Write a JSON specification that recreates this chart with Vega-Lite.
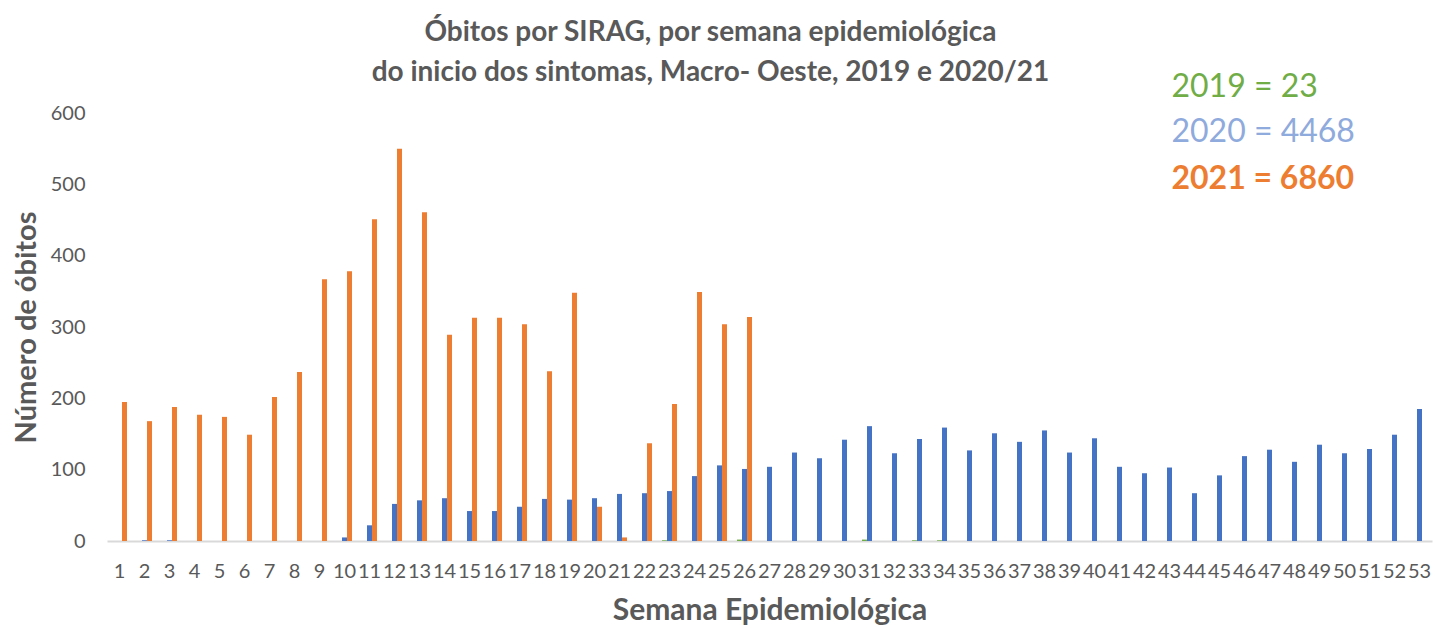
{
  "$schema": "https://vega.github.io/schema/vega-lite/v6.json",
  "width": 1325,
  "height": 428,
  "autosize": "none",
  "padding": {"left": 107, "top": 113, "right": 3, "bottom": 87},
  "background": "white",
  "config": {
    "font": "Lato",
    "view": {"stroke": null}
  },
  "title": {
    "text": ["Óbitos por SIRAG, por semana epidemiológica", "do inicio dos sintomas, Macro- Oeste, 2019 e 2020/21"],
    "font": "Lato",
    "fontSize": 28,
    "fontWeight": "bold",
    "color": "#595959",
    "anchor": "middle",
    "dx": -59,
    "lineHeight": 40,
    "offset": -16
  },
  "datasets": {
    "bars": [
      {"week": 1, "series": "2021", "deaths": 195},
      {"week": 2, "series": "2021", "deaths": 168},
      {"week": 3, "series": "2021", "deaths": 188},
      {"week": 4, "series": "2021", "deaths": 177},
      {"week": 5, "series": "2021", "deaths": 174},
      {"week": 6, "series": "2021", "deaths": 149},
      {"week": 7, "series": "2021", "deaths": 202},
      {"week": 8, "series": "2021", "deaths": 237},
      {"week": 9, "series": "2021", "deaths": 367},
      {"week": 10, "series": "2021", "deaths": 378},
      {"week": 11, "series": "2021", "deaths": 451},
      {"week": 12, "series": "2021", "deaths": 550},
      {"week": 13, "series": "2021", "deaths": 461},
      {"week": 14, "series": "2021", "deaths": 289},
      {"week": 15, "series": "2021", "deaths": 313},
      {"week": 16, "series": "2021", "deaths": 313},
      {"week": 17, "series": "2021", "deaths": 304},
      {"week": 18, "series": "2021", "deaths": 238},
      {"week": 19, "series": "2021", "deaths": 348},
      {"week": 20, "series": "2021", "deaths": 48},
      {"week": 21, "series": "2021", "deaths": 5},
      {"week": 22, "series": "2021", "deaths": 137},
      {"week": 23, "series": "2021", "deaths": 192},
      {"week": 24, "series": "2021", "deaths": 349},
      {"week": 25, "series": "2021", "deaths": 304},
      {"week": 26, "series": "2021", "deaths": 314},
      {"week": 2, "series": "2020", "deaths": 1},
      {"week": 3, "series": "2020", "deaths": 1},
      {"week": 10, "series": "2020", "deaths": 5},
      {"week": 11, "series": "2020", "deaths": 22},
      {"week": 12, "series": "2020", "deaths": 52},
      {"week": 13, "series": "2020", "deaths": 57},
      {"week": 14, "series": "2020", "deaths": 60},
      {"week": 15, "series": "2020", "deaths": 42},
      {"week": 16, "series": "2020", "deaths": 42},
      {"week": 17, "series": "2020", "deaths": 48},
      {"week": 18, "series": "2020", "deaths": 59},
      {"week": 19, "series": "2020", "deaths": 58},
      {"week": 20, "series": "2020", "deaths": 60},
      {"week": 21, "series": "2020", "deaths": 66},
      {"week": 22, "series": "2020", "deaths": 67},
      {"week": 23, "series": "2020", "deaths": 70},
      {"week": 24, "series": "2020", "deaths": 91},
      {"week": 25, "series": "2020", "deaths": 106},
      {"week": 26, "series": "2020", "deaths": 101},
      {"week": 27, "series": "2020", "deaths": 104},
      {"week": 28, "series": "2020", "deaths": 124},
      {"week": 29, "series": "2020", "deaths": 116},
      {"week": 30, "series": "2020", "deaths": 142},
      {"week": 31, "series": "2020", "deaths": 161},
      {"week": 32, "series": "2020", "deaths": 123},
      {"week": 33, "series": "2020", "deaths": 143},
      {"week": 34, "series": "2020", "deaths": 159},
      {"week": 35, "series": "2020", "deaths": 127},
      {"week": 36, "series": "2020", "deaths": 151},
      {"week": 37, "series": "2020", "deaths": 139},
      {"week": 38, "series": "2020", "deaths": 155},
      {"week": 39, "series": "2020", "deaths": 124},
      {"week": 40, "series": "2020", "deaths": 144},
      {"week": 41, "series": "2020", "deaths": 104},
      {"week": 42, "series": "2020", "deaths": 95},
      {"week": 43, "series": "2020", "deaths": 103},
      {"week": 44, "series": "2020", "deaths": 67},
      {"week": 45, "series": "2020", "deaths": 92},
      {"week": 46, "series": "2020", "deaths": 119},
      {"week": 47, "series": "2020", "deaths": 128},
      {"week": 48, "series": "2020", "deaths": 111},
      {"week": 49, "series": "2020", "deaths": 135},
      {"week": 50, "series": "2020", "deaths": 123},
      {"week": 51, "series": "2020", "deaths": 129},
      {"week": 52, "series": "2020", "deaths": 149},
      {"week": 53, "series": "2020", "deaths": 185},
      {"week": 23, "series": "2019", "deaths": 1},
      {"week": 26, "series": "2019", "deaths": 2},
      {"week": 31, "series": "2019", "deaths": 2},
      {"week": 33, "series": "2019", "deaths": 1},
      {"week": 34, "series": "2019", "deaths": 1}
    ],
    "totals": [
      {"week": 43, "series": "2019", "label": "2019 = 23", "pos": 636},
      {"week": 43, "series": "2020", "label": "2020 = 4468", "pos": 573},
      {"week": 43, "series": "2021", "label": "2021 = 6860", "pos": 507}
    ]
  },
  "layer": [
    {
      "data": {"name": "bars"},
      "mark": {"type": "bar"},
      "encoding": {
        "x": {
          "field": "week",
          "type": "ordinal",
          "scale": {"domain": [1,2,3,4,5,6,7,8,9,10,11,12,13,14,15,16,17,18,19,20,21,22,23,24,25,26,27,28,29,30,31,32,33,34,35,36,37,38,39,40,41,42,43,44,45,46,47,48,49,50,51,52,53], "paddingInner": 0.4, "paddingOuter": 0.2},
          "axis": {
            "title": "Semana Epidemiológica",
            "titleFont": "Lato",
            "titleFontSize": 30,
            "titleFontWeight": "bold",
            "titleColor": "#595959",
            "titlePadding": 14,
            "labelFont": "Lato",
            "labelFontSize": 20,
            "labelColor": "#595959",
            "labelAngle": 0,
            "labelPadding": 20,
            "ticks": false,
            "domainColor": "#D9D9D9",
            "domainWidth": 2,
            "grid": false
          }
        },
        "xOffset": {"field": "series", "type": "nominal", "scale": {"domain": ["2019", "2020", "2021"]}},
        "y": {
          "field": "deaths",
          "type": "quantitative",
          "scale": {"domain": [0, 600], "nice": false},
          "axis": {
            "title": "Número de óbitos",
            "titleFont": "Lato",
            "titleFontSize": 29,
            "titleFontWeight": "bold",
            "titleColor": "#595959",
            "titlePadding": 9,
            "labelFont": "Lato",
            "labelFontSize": 20,
            "labelColor": "#595959",
            "labelPadding": 22,
            "values": [0, 100, 200, 300, 400, 500, 600],
            "ticks": false,
            "domain": false,
            "grid": false
          }
        },
        "color": {
          "field": "series",
          "type": "nominal",
          "scale": {"domain": ["2019", "2020", "2021"], "range": ["#70AD47", "#4472C4", "#ED7D31"]},
          "legend": null
        }
      }
    },
    {
      "data": {"name": "totals"},
      "transform": [{"filter": "datum.series != '2021'"}],
      "mark": {"type": "text", "align": "left", "baseline": "middle", "dx": 2, "font": "Lato", "fontSize": 32},
      "encoding": {
        "x": {"field": "week", "type": "ordinal"},
        "y": {"field": "pos", "type": "quantitative"},
        "text": {"field": "label"},
        "color": {
          "field": "series",
          "type": "nominal",
          "scale": {"domain": ["2019", "2020"], "range": ["#70AD47", "#8FAADC"]},
          "legend": null
        }
      }
    },
    {
      "data": {"name": "totals"},
      "transform": [{"filter": "datum.series == '2021'"}],
      "mark": {"type": "text", "align": "left", "baseline": "middle", "dx": 2, "font": "Lato", "fontSize": 32, "fontWeight": "bold", "color": "#ED7D31"},
      "encoding": {
        "x": {"field": "week", "type": "ordinal"},
        "y": {"field": "pos", "type": "quantitative"},
        "text": {"field": "label"}
      }
    }
  ],
  "resolve": {"scale": {"color": "independent"}}
}
